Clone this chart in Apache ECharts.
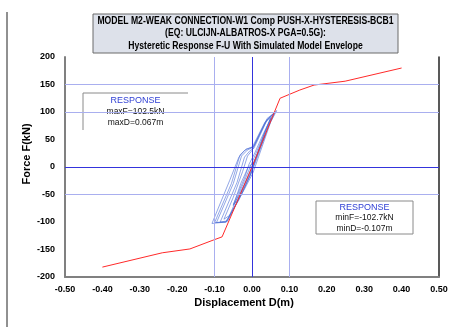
<!DOCTYPE html>
<html>
<head>
<meta charset="utf-8">
<script src="https://cdn.jsdelivr.net/npm/echarts/dist/echarts.min.js"></script>
<style>
  html, body { margin: 0; padding: 0; background: #fff; }
  #chart { width: 460px; height: 327px; }
</style>
</head>
<body>
<div id="chart"></div>
<script>
// axis ticks
const xTicks = [-0.5, -0.4, -0.3, -0.2, -0.1, 0, 0.1, 0.2, 0.3, 0.4, 0.5];
const yTicks = [-200, -150, -100, -50, 0, 50, 100, 150, 200];

// simulated model envelope (red)
const envD = [-0.40, -0.24, -0.166, -0.104, -0.08, 0, 0.075, 0.128, 0.166, 0.249, 0.40];
const envF = [-182, -156, -149, -133, -127, 0, 125, 140, 149, 156, 180];

// hysteresis cycles [D (m), F (kN)]
const loop1 = [[0, 0], [0.02, 32], [0.035, 58], [0.012, 20], [-0.01, -15], [-0.04, -62], [-0.05, -68], [-0.02, -20], [-0.008, 5], [0.005, 22]];
const loop2 = [[0.005, 22], [0.03, 60], [0.05, 88], [0.042, 75], [0.0, 8], [-0.02, -25], [-0.06, -88], [-0.075, -95], [-0.05, -55], [-0.025, -8], [-0.012, 20], [0.0, 30]];
const loop3 = [[0.0, 30], [0.04, 86], [0.066, 102.5], [0.05, 82], [0.003, -10], [-0.02, -40], [-0.07, -100], [-0.107, -102.7], [-0.06, -25], [-0.035, 18], [-0.02, 30], [-0.005, 35], [0.005, 38]];
const loop4 = [[0.005, 38], [0.04, 88], [0.062, 100], [0.045, 75], [0.0, -8], [-0.025, -45], [-0.068, -100], [-0.095, -101], [-0.05, -30], [-0.028, 20], [-0.012, 31], [0.0, 35]];
const loop5 = [[0.0, 35], [0.035, 82], [0.058, 97], [0.04, 70], [-0.003, -12], [-0.03, -50], [-0.065, -98], [-0.085, -100], [-0.04, -28], [-0.02, 18], [-0.005, 30], [0.005, 34]];
const loop6 = [[0.005, 34], [0.04, 85], [0.055, 95], [0.035, 65], [-0.005, -15], [-0.035, -60], [-0.07, -100], [-0.1, -101], [-0.055, -30], [-0.032, 22], [-0.015, 33], [0.003, 36]];
const loop7 = [[0.003, 36], [0.035, 80], [0.05, 90], [0.03, 55], [-0.005, -12], [-0.03, -45], [-0.05, -70], [-0.03, -30], [-0.01, 0], [0, 5]];
const loops = [loop1, loop2, loop3, loop4, loop5, loop6, loop7];

// reference lines
const lightY = [150, 100, -50];
const lightX = [-0.1, 0.1];

const titleLines = [
  'MODEL M2-WEAK CONNECTION-W1 Comp PUSH-X-HYSTERESIS-BCB1',
  '(EQ: ULCIJN-ALBATROS-X PGA=0.5G):',
  'Hysteretic Response F-U With Simulated Model Envelope'
];
const maxLines = ['maxF=102.5kN', 'maxD=0.067m'];
const minLines = ['minF=-102.7kN', 'minD=-0.107m'];

const sans = '"Liberation Sans", Arial, sans-serif';

const chart = echarts.init(document.getElementById('chart'));

const loopSeries = loops.map((pts) => ({
  type: 'line',
  data: pts,
  showSymbol: false,
  silent: true,
  z: 3,
  lineStyle: { color: '#4a6cd6', width: 1, opacity: 0.6 },
}));

const option = {
  animation: false,
  backgroundColor: '#fff',
  grid: { left: 65, right: 21, top: 57, bottom: 50 },
  xAxis: {
    type: 'value',
    min: -0.5,
    max: 0.5,
    interval: 0.1,
    axisLine: { show: true, onZero: false, lineStyle: { color: '#808080', width: 2 } },
    axisTick: { show: false },
    splitLine: { show: false },
    axisLabel: {
      margin: 8,
      color: '#000',
      fontFamily: sans,
      fontWeight: 'bold',
      fontSize: 9,
      formatter: (v) => v.toFixed(2),
    },
  },
  yAxis: [
    {
      type: 'value',
      min: -200,
      max: 200,
      interval: 50,
      axisLine: { show: true, onZero: false, lineStyle: { color: '#808080', width: 2 } },
      axisTick: { show: false },
      splitLine: { show: false },
      axisLabel: {
        margin: 10,
        color: '#000',
        fontFamily: sans,
        fontWeight: 'bold',
        fontSize: 9,
      },
    },
    {
      type: 'value',
      position: 'right',
      min: -200,
      max: 200,
      interval: 50,
      axisLine: { show: true, onZero: false, lineStyle: { color: '#222', width: 1.5 } },
      axisTick: { show: false },
      axisLabel: { show: false },
      splitLine: { show: false },
    },
  ],
  series: [
    {
      type: 'line',
      data: [],
      silent: true,
      z: 1,
      markLine: {
        silent: true,
        symbol: ['none', 'none'],
        label: { show: false },
        lineStyle: { color: '#a9afef', type: 'solid', width: 1 },
        data: lightY.map((v) => ({ yAxis: v })).concat(lightX.map((v) => ({ xAxis: v }))),
      },
    },
    {
      type: 'line',
      data: [],
      silent: true,
      z: 1,
      markLine: {
        silent: true,
        symbol: ['none', 'none'],
        label: { show: false },
        lineStyle: { color: '#3434dc', type: 'solid', width: 1 },
        data: [{ yAxis: 0 }, { xAxis: 0 }],
      },
    },
    ...loopSeries,
    {
      type: 'line',
      data: envD.map((d, i) => [d, envF[i]]),
      showSymbol: false,
      silent: true,
      z: 4,
      lineStyle: { color: '#ff2a2a', width: 1 },
    },
  ],
  graphic: [
    { type: 'line', shape: { x1: 7, y1: 12, x2: 7, y2: 327 }, style: { stroke: '#222', lineWidth: 1 } },
    // title box
    { type: 'rect', shape: { x: 93, y: 14, width: 305, height: 39 }, style: { fill: '#dde1ea', stroke: '#6b6b6b', lineWidth: 1 } },
    ...titleLines.map((t, i) => ({
      type: 'text', x: 245.5, y: 21 + i * 12.5, scaleX: 0.82,
      style: { text: t, fill: '#000', font: 'bold 10.5px ' + sans, textAlign: 'center', textVerticalAlign: 'middle' },
    })),
    // response box (max)
    { type: 'rect', shape: { x: 83, y: 93, width: 105, height: 37 }, style: { fill: '#fff' } },
    { type: 'polyline', shape: { points: [[83, 130], [83, 93], [188, 93]] }, style: { stroke: '#8a8a8a', lineWidth: 1, fill: null } },
    { type: 'text', x: 135.5, y: 101, style: { text: 'RESPONSE', fill: '#2f3fd4', font: '9px ' + sans, textAlign: 'center', textVerticalAlign: 'middle' } },
    ...maxLines.map((t, i) => ({
      type: 'text', x: 135.5, y: 112 + i * 11,
      style: { text: t, fill: '#111', font: '8.5px ' + sans, textAlign: 'center', textVerticalAlign: 'middle' },
    })),
    // response box (min)
    { type: 'rect', shape: { x: 316, y: 201, width: 97, height: 33 }, style: { fill: '#fff', stroke: '#8a8a8a', lineWidth: 1 } },
    { type: 'text', x: 364.5, y: 208, style: { text: 'RESPONSE', fill: '#2f3fd4', font: '9px ' + sans, textAlign: 'center', textVerticalAlign: 'middle' } },
    ...minLines.map((t, i) => ({
      type: 'text', x: 364.5, y: 218 + i * 10.5,
      style: { text: t, fill: '#111', font: '8.5px ' + sans, textAlign: 'center', textVerticalAlign: 'middle' },
    })),
    // axis names
    { type: 'text', x: 244, y: 303, style: { text: 'Displacement D(m)', fill: '#000', font: 'bold 11px ' + sans, textAlign: 'center', textVerticalAlign: 'middle' } },
    { type: 'text', x: 27, y: 154, rotation: Math.PI / 2, style: { text: 'Force F(kN)', fill: '#000', font: 'bold 11px ' + sans, textAlign: 'center', textVerticalAlign: 'middle' } },
  ],
};

chart.setOption(option);
</script>
</body>
</html>
